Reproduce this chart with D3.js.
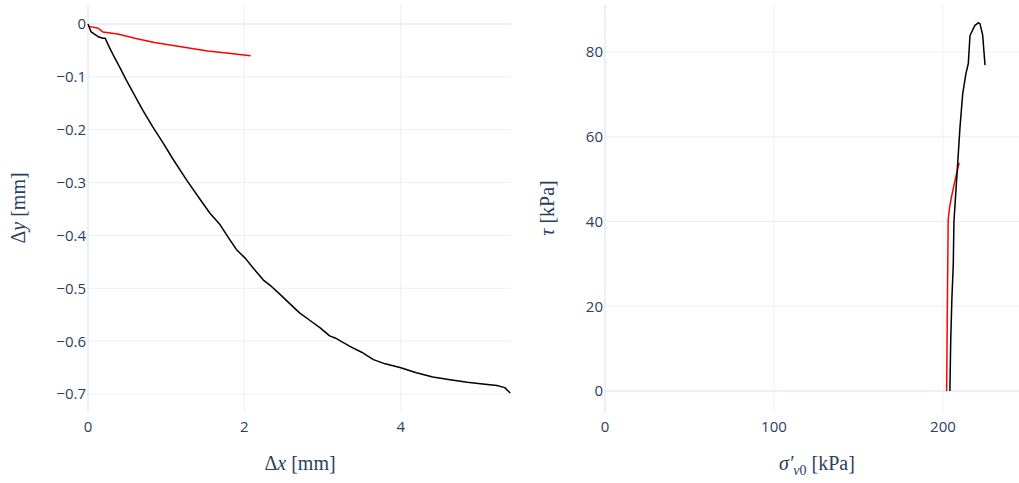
<!DOCTYPE html>
<html><head><meta charset="utf-8">
<script src="https://cdn.jsdelivr.net/npm/d3@7"></script>
<style>body{margin:0;background:#fff}svg{display:block}</style>
</head><body>
<svg id="c" width="1019" height="483"></svg>
<script>
// Left panel: horizontal vs vertical displacement
const blackDx = [0, 0.04, 0.13, 0.19, 0.22, 0.26, 0.32, 0.40, 0.49, 0.60, 0.70, 0.83, 0.96, 1.08, 1.26, 1.43, 1.56, 1.69, 1.80, 1.90, 2.01, 2.12, 2.24, 2.35, 2.46, 2.58, 2.71, 2.84, 2.97, 3.09, 3.16, 3.35, 3.50, 3.65, 3.80, 3.99, 4.20, 4.41, 4.63, 4.85, 5.05, 5.23, 5.33, 5.40];
const blackDy = [0, -0.015, -0.024, -0.027, -0.027, -0.040, -0.058, -0.080, -0.106, -0.136, -0.163, -0.195, -0.225, -0.254, -0.295, -0.331, -0.358, -0.380, -0.405, -0.427, -0.443, -0.463, -0.484, -0.497, -0.512, -0.529, -0.547, -0.561, -0.575, -0.590, -0.594, -0.610, -0.621, -0.635, -0.643, -0.650, -0.660, -0.668, -0.673, -0.678, -0.681, -0.684, -0.688, -0.698];
const redDx = [0, 0.13, 0.19, 0.38, 0.60, 0.85, 1.19, 1.53, 1.77, 2.08];
const redDy = [-0.004, -0.008, -0.015, -0.019, -0.027, -0.035, -0.043, -0.051, -0.055, -0.060];
// Right panel: effective vertical stress vs shear stress
const blackSig = [204.1, 204.6, 205.3, 206.1, 206.5, 207.7, 208.6, 210.1, 211.7, 213.6, 215.0, 216.0, 218.9, 220.9, 221.9, 223.5, 224.9];
const blackTau = [0, 12, 22, 29.7, 40.0, 47.4, 53.0, 62.4, 70.2, 74.9, 77.3, 83.9, 86.3, 86.9, 86.7, 84.0, 76.9];
const redSig = [202.2, 202.6, 203.1, 204.0, 205.1, 207.3, 209.6];
const redTau = [0, 20, 40.5, 43.5, 45.9, 50.0, 53.9];
const leftXTicks = [0, 2, 4];
const leftYTicks = [0, -0.1, -0.2, -0.3, -0.4, -0.5, -0.6, -0.7];
const rightXTicks = [0, 100, 200];
const rightYTicks = [0, 20, 40, 60, 80];

const svg = d3.select("#c");
const TXT = "#2a3f5f", GRID = "#ebf0f8";
const plotTop = 5, plotBottom = 413;

function fmt(v){ return v < 0 ? "\u2212" + String(Math.abs(v)) : String(v); }

function panel(x0, x1, xDom, yDom, xTicks, yTicks, series){
  const x = d3.scaleLinear().domain(xDom).range([x0, x1]);
  const y = d3.scaleLinear().domain(yDom).range([plotBottom, plotTop]);
  const g = svg.append("g");
  g.selectAll(".vg").data(xTicks).join("line")
    .attr("x1", d=>x(d)).attr("x2", d=>x(d)).attr("y1", plotTop).attr("y2", plotBottom)
    .attr("stroke", GRID).attr("stroke-width", d=>d===0?2:1);
  g.selectAll(".hg").data(yTicks).join("line")
    .attr("y1", d=>y(d)).attr("y2", d=>y(d)).attr("x1", x0).attr("x2", x1)
    .attr("stroke", GRID).attr("stroke-width", d=>d===0?2:1);
  g.selectAll(".xt").data(xTicks).join("text")
    .attr("x", d=>x(d)).attr("y", 432).attr("text-anchor","middle")
    .attr("font-family","'Open Sans', sans-serif").attr("font-size",15).attr("fill",TXT)
    .text(fmt);
  g.selectAll(".yt").data(yTicks).join("text")
    .attr("x", x0-2).attr("y", d=>y(d)).attr("dy","0.36em").attr("text-anchor","end")
    .attr("font-family","'Open Sans', sans-serif").attr("font-size",15).attr("fill",TXT)
    .text(fmt);
  const line = d3.line().x(d=>x(d[0])).y(d=>y(d[1]));
  series.forEach(s=>{
    g.append("path").datum(d3.zip(s.xs, s.ys)).attr("d", line)
      .attr("fill","none").attr("stroke", s.color).attr("stroke-width",1.5)
      .attr("stroke-linejoin","round");
  });
  return {x, y};
}

panel(88, 511, [0, 5.41], [-0.736, 0.036], leftXTicks, leftYTicks, [
  {xs: redDx, ys: redDy, color: "red"},
  {xs: blackDx, ys: blackDy, color: "black"}
]);
panel(605, 1019, [0, 245], [-5.2, 91.1], rightXTicks, rightYTicks, [
  {xs: redSig, ys: redTau, color: "red"},
  {xs: blackSig, ys: blackTau, color: "black"}
]);

function title(x, y, rot, parts){
  const t = svg.append("text").attr("transform", `translate(${x},${y}) rotate(${rot})`)
    .attr("text-anchor","middle").attr("font-family","'Liberation Serif', serif")
    .attr("font-size",20).attr("fill",TXT);
  parts.forEach(p=>{
    const ts = t.append("tspan").text(p.t);
    if (p.i) ts.attr("font-style","italic");
  });
}
title(300, 470, 0, [{t:"\u0394"},{t:"x",i:1},{t:" [mm]"}]);
title(25, 208, -90, [{t:"\u0394"},{t:"y",i:1},{t:" [mm]"}]);
title(554, 208, -90, [{t:"\u03C4",i:1},{t:" [kPa]"}]);
const t2 = svg.append("text").attr("x", 817).attr("y", 470).attr("text-anchor","middle")
  .attr("font-family","'Liberation Serif', serif").attr("font-size",20).attr("fill",TXT);
t2.append("tspan").attr("font-style","italic").text("\u03C3\u2032");
t2.append("tspan").attr("font-style","italic").attr("font-size",14).attr("dy",5).text("v");
t2.append("tspan").attr("font-size",14).text("0");
t2.append("tspan").attr("dy",-5).text(" [kPa]");
</script>
</body></html>
